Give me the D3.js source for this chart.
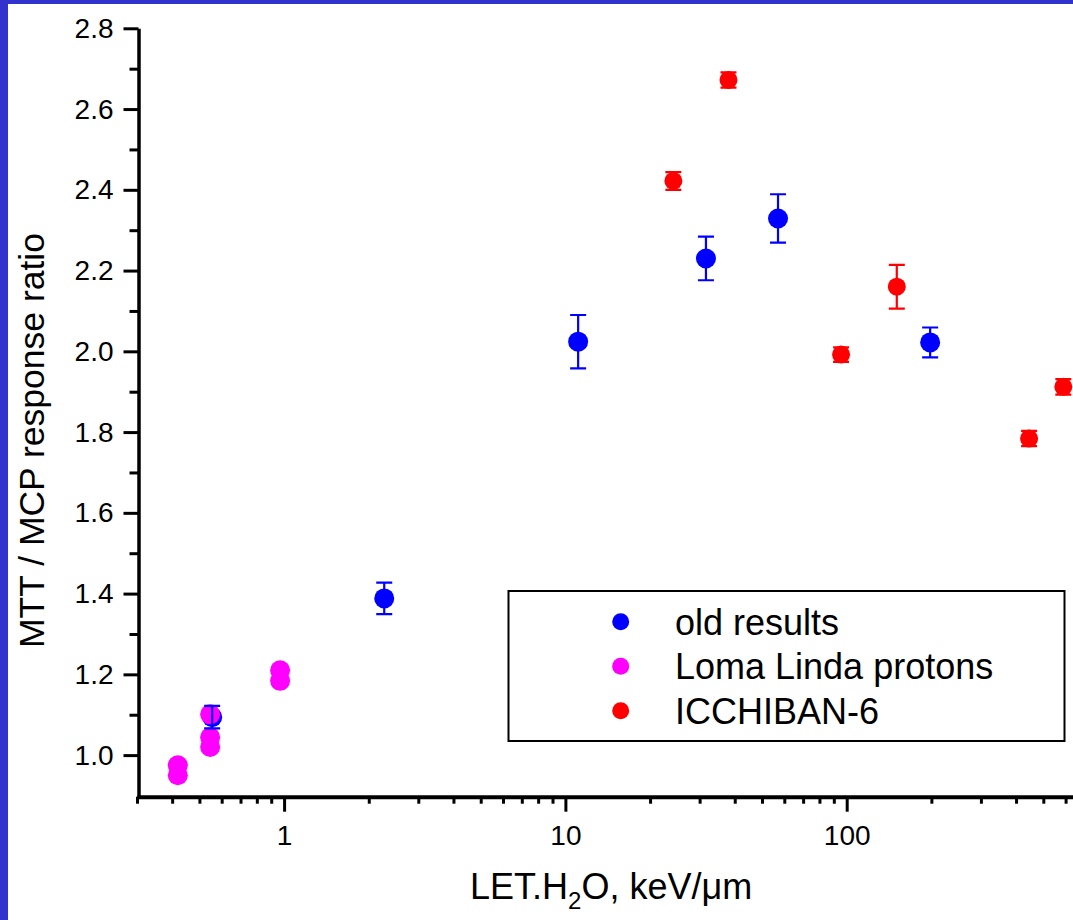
<!DOCTYPE html>
<html>
<head>
<meta charset="utf-8">
<script src="https://cdn.jsdelivr.net/npm/d3@7"></script>
<style>
  html, body { margin: 0; padding: 0; background: #fff; }
  svg { display: block; font-family: "Liberation Sans", Arial, sans-serif; }
</style>
</head>
<body>
<svg id="chart" width="1073" height="920"></svg>
<script>
// data
var oldX = [0.555, 2.27, 11.1, 31.6, 57.0, 198];
var oldY = [1.094, 1.388, 2.024, 2.230, 2.329, 2.022];
var oldErr = [0.028, 0.039, 0.066, 0.054, 0.060, 0.037];

var lomaX = [0.419, 0.419, 0.546, 0.546, 0.546, 0.968, 0.968];
var lomaY = [0.975, 0.950, 1.101, 1.044, 1.020, 1.210, 1.184];

var icX = [24.2, 38.0, 95.5, 150.7, 445, 589];
var icY = [2.422, 2.672, 1.992, 2.160, 1.784, 1.912];
var icErr = [0.022, 0.019, 0.018, 0.054, 0.019, 0.019];

var xTickLabels = [1, 10, 100];
var yTickLabels = [1.0, 1.2, 1.4, 1.6, 1.8, 2.0, 2.2, 2.4, 2.6, 2.8];
var yMinorTicks = [1.1, 1.3, 1.5, 1.7, 1.9, 2.1, 2.3, 2.5, 2.7];

var legendNames = ["old results", "Loma Linda protons", "ICCHIBAN-6"];
var legendColors = ["#0000ff", "#ff00ff", "#ff0000"];

var svg = d3.select("#chart");

// blue frame on left and top
svg.append("rect").attr("x", 0).attr("y", 0).attr("width", 1073).attr("height", 920).attr("fill", "#3232cc");
svg.append("rect").attr("x", 8).attr("y", 4).attr("width", 1065).attr("height", 916).attr("fill", "#fff");

// scales
var x = d3.scaleLog().domain([0.3, 1000]).range([137, 1128]);
var y = d3.scaleLinear().domain([0.897, 2.8]).range([796.7, 28.3]);

var xMinor = x.ticks().filter(function (d) { return xTickLabels.indexOf(d) < 0; });

// x axis
var gx = svg.append("g").attr("transform", "translate(0," + 796.7 + ")");
gx.append("g")
  .call(d3.axisBottom(x).tickValues(xMinor).tickSize(7).tickSizeOuter(0).tickFormat(""))
  .call(function (g) { g.select(".domain").remove(); });
gx.append("g")
  .call(d3.axisBottom(x).tickValues(xTickLabels).tickSize(15).tickSizeOuter(0).tickPadding(13).tickFormat(d3.format("d")));
gx.selectAll(".domain").attr("stroke-width", 4);
gx.selectAll(".tick line").attr("stroke-width", 3);
gx.selectAll(".tick text").attr("font-size", 28).attr("fill", "#000").attr("font-family", null);

// y axis
var gy = svg.append("g").attr("transform", "translate(138.5,0)");
gy.append("g")
  .call(d3.axisLeft(y).tickValues(yMinorTicks).tickSize(9).tickSizeOuter(0).tickFormat(""))
  .call(function (g) { g.select(".domain").remove(); });
gy.append("g")
  .call(d3.axisLeft(y).tickValues(yTickLabels).tickSize(15).tickSizeOuter(0).tickPadding(10).tickFormat(d3.format(".1f")));
gy.selectAll(".domain").attr("stroke-width", 3.5);
gy.selectAll(".tick line").attr("stroke-width", 3);
gy.selectAll(".tick text").attr("font-size", 28).attr("fill", "#000").attr("font-family", null);

// axis titles
var xt = svg.append("text").attr("x", 470).attr("y", 899).attr("font-size", 36).attr("fill", "#000");
xt.append("tspan").text("LET.H");
xt.append("tspan").attr("font-size", 24).attr("dy", 10).text("2");
xt.append("tspan").attr("dy", -10).text("O, keV/\u03bcm");

svg.append("text")
  .attr("transform", "translate(44,648) rotate(-90)")
  .attr("font-size", 35.5)
  .attr("fill", "#000")
  .text("MTT / MCP response ratio");

// markers
var plot = svg.append("g");

function drawPoints(xs, ys, color, r) {
  plot.selectAll(null)
    .data(xs.map(function (v, i) { return [v, ys[i]]; }))
    .enter().append("circle")
    .attr("cx", function (d) { return x(d[0]); })
    .attr("cy", function (d) { return y(d[1]); })
    .attr("r", r)
    .attr("fill", color);
}

function drawErrors(xs, ys, es, color) {
  var data = xs.map(function (v, i) { return [v, ys[i], es[i]]; });
  var g = plot.append("g").attr("stroke", color).attr("stroke-width", 2.2).attr("fill", "none");
  g.selectAll(null).data(data).enter().append("path")
    .attr("d", function (d) {
      var cx = x(d[0]), y0 = y(d[1] - d[2]), y1 = y(d[1] + d[2]);
      return "M" + cx + "," + y0 + "V" + y1 +
        "M" + (cx - 8) + "," + y0 + "H" + (cx + 8) +
        "M" + (cx - 8) + "," + y1 + "H" + (cx + 8);
    });
}

drawPoints(oldX, oldY, legendColors[0], 10);
drawPoints(lomaX, lomaY, legendColors[1], 10);
drawPoints(icX, icY, legendColors[2], 9);
drawErrors(oldX, oldY, oldErr, legendColors[0]);
drawErrors(icX, icY, icErr, legendColors[2]);

// legend
var lg = svg.append("g");
lg.append("rect").attr("x", 508.5).attr("y", 591).attr("width", 556).attr("height", 150)
  .attr("fill", "#fff").attr("stroke", "#000").attr("stroke-width", 2);
legendNames.forEach(function (name, i) {
  var cy = 621.7 + i * 44.5;
  lg.append("circle").attr("cx", 620.7).attr("cy", cy).attr("r", 8.5).attr("fill", legendColors[i]);
  lg.append("text").attr("x", 675).attr("y", cy).attr("dy", "0.36em")
    .attr("font-size", 36).attr("fill", "#000").text(name);
});
</script>
</body>
</html>
